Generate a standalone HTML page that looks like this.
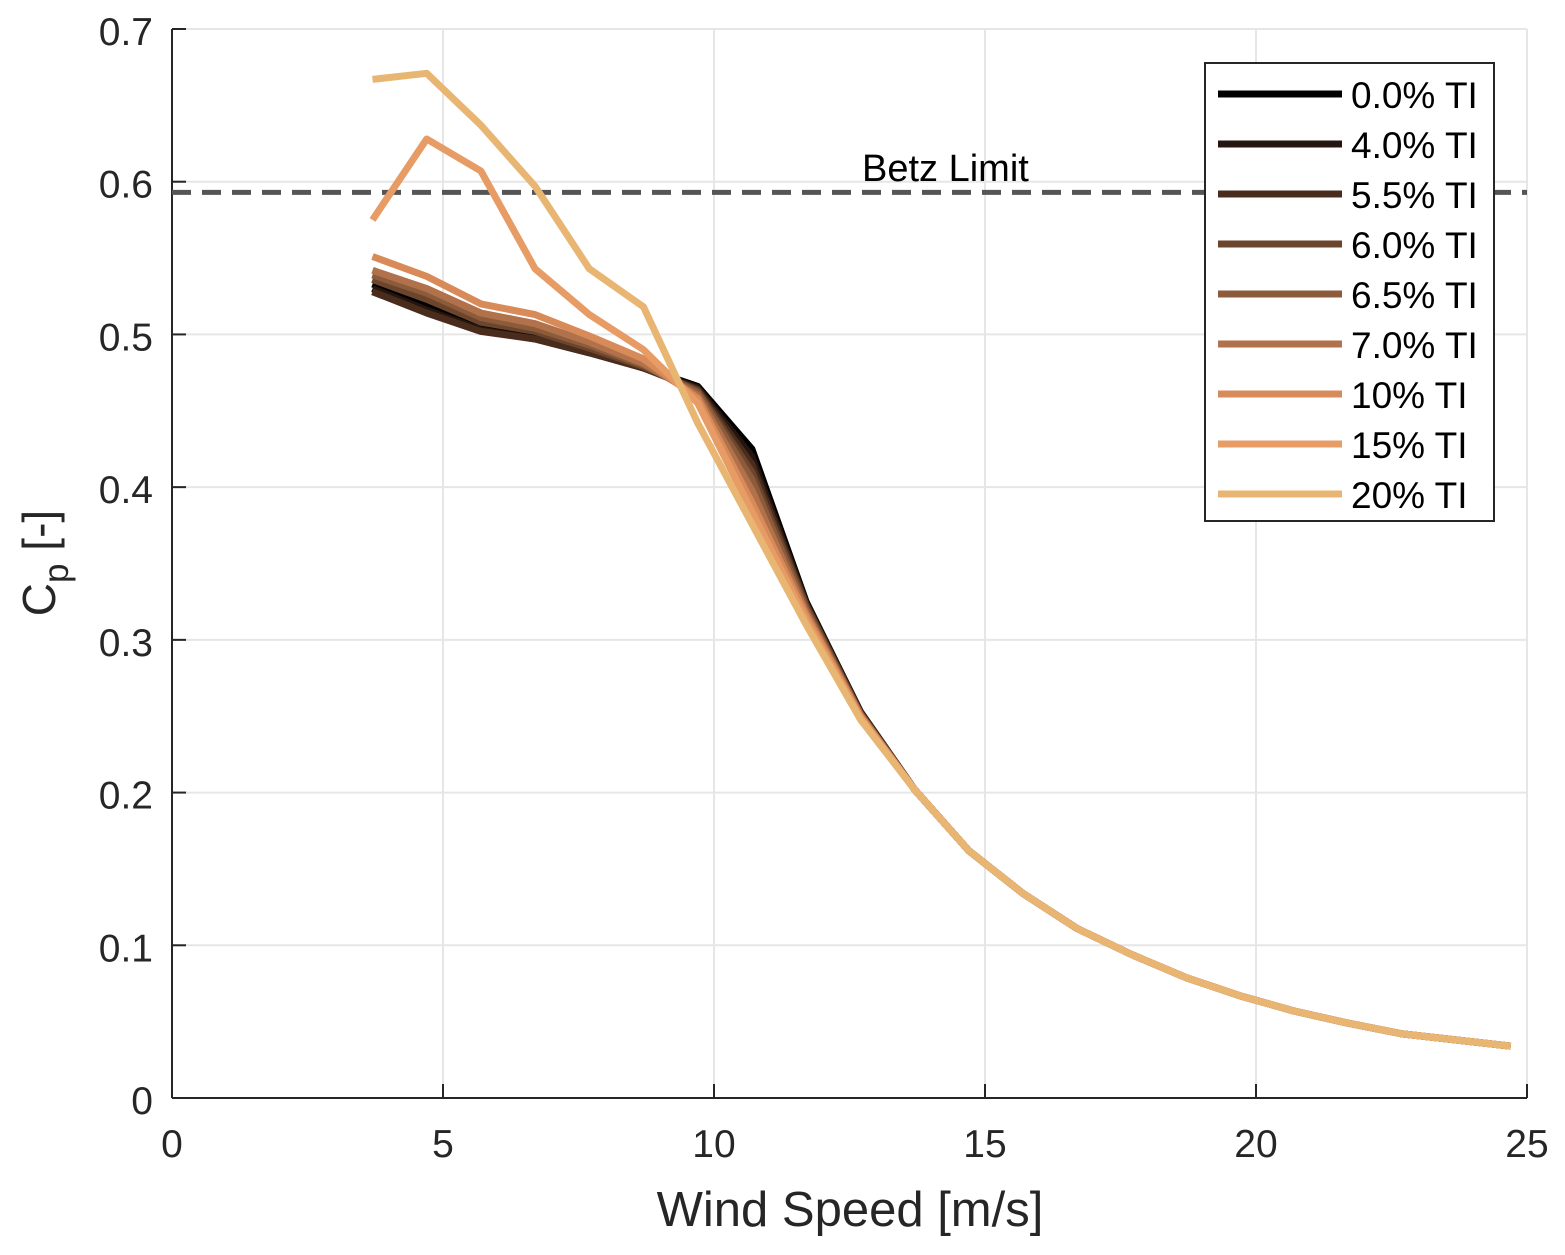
<!DOCTYPE html>
<html><head><meta charset="utf-8"><style>
body{margin:0;background:#fff;font-family:"Liberation Sans",Arial,sans-serif}
svg text{font-family:"Liberation Sans",Arial,sans-serif}
</style></head><body>
<svg id="chart" width="1565" height="1250" xmlns="http://www.w3.org/2000/svg">
<g id="grid"></g>
<g id="axes"></g>
<g id="series"></g>
<g id="legend"></g>
</svg>
<script>
const xTicks=[0,5,10,15,20,25];
const yTicks=[0,0.1,0.2,0.3,0.4,0.5,0.6,0.7];
const yTickLabels=["0","0.1","0.2","0.3","0.4","0.5","0.6","0.7"];
const windSpeed=[3.7,4.7,5.7,6.7,7.7,8.7,9.7,10.7,11.7,12.7,13.7,14.7,15.7,16.7,17.7,18.7,19.7,20.7,21.7,22.7,23.7,24.7];
const tail=[0.202,0.162,0.134,0.111,0.094,0.079,0.067,0.057,0.049,0.042,0.038,0.034];
const seriesNames=["0.0% TI","4.0% TI","5.5% TI","6.0% TI","6.5% TI","7.0% TI","10% TI","15% TI","20% TI"];
const seriesColors=["#000000","#24150e","#4a2c1c","#6b452c","#8c5b3b","#b1714a","#d88a58","#e79c65","#e8b672"];
const cp0=[0.533,0.520,0.505,0.498,0.489,0.478,0.466,0.425,0.325,0.253].concat(tail);
const cp4=[0.530,0.516,0.503,0.497,0.488,0.478,0.465,0.420,0.324,0.253].concat(tail);
const cp55=[0.528,0.514,0.502,0.497,0.488,0.478,0.464,0.415,0.323,0.252].concat(tail);
const cp6=[0.536,0.523,0.508,0.502,0.491,0.479,0.463,0.410,0.322,0.252].concat(tail);
const cp65=[0.539,0.527,0.511,0.504,0.493,0.480,0.462,0.405,0.320,0.251].concat(tail);
const cp7=[0.542,0.530,0.514,0.507,0.495,0.481,0.460,0.398,0.318,0.251].concat(tail);
const cp10=[0.551,0.538,0.520,0.513,0.499,0.484,0.458,0.390,0.316,0.250].concat(tail);
const cp15=[0.575,0.628,0.607,0.543,0.513,0.490,0.455,0.384,0.313,0.249].concat(tail);
const cp20=[0.667,0.671,0.637,0.597,0.543,0.518,0.442,0.376,0.310,0.248].concat(tail);
const seriesValues=[cp0,cp4,cp55,cp6,cp65,cp7,cp10,cp15,cp20];
const betz=0.593;

const X0=172,X1=1527,Y0=1098,Y1=29;
const xs=v=>X0+(v-0)/25*(X1-X0);
const ys=v=>Y0-(v-0)/0.7*(Y0-Y1);
const NS="http://www.w3.org/2000/svg";
function mk(t,a,p){const e=document.createElementNS(NS,t);for(const k in a)e.setAttribute(k,a[k]);p.appendChild(e);return e;}
const grid=document.getElementById('grid'),axes=document.getElementById('axes'),ser=document.getElementById('series'),leg=document.getElementById('legend');
mk('rect',{x:X0,y:Y1,width:X1-X0,height:Y0-Y1,fill:'#fff'},grid);
xTicks.forEach(t=>{const l=mk('line',{x1:xs(t),x2:xs(t),y1:Y1,y2:Y0,stroke:'#e6e6e6','stroke-width':2},grid);


mk('line',{x1:xs(t),x2:xs(t),y1:Y0,y2:Y0-14,stroke:'#262626','stroke-width':2},axes);
const tx=mk('text',{x:xs(t),y:Y0+59,'text-anchor':'middle','font-size':39,fill:'#262626'},axes);tx.textContent=t;

});
yTicks.forEach((t,i)=>{const l=mk('line',{x1:X0,x2:X1,y1:ys(t),y2:ys(t),stroke:'#e6e6e6','stroke-width':2},grid);


mk('line',{x1:X0,x2:X0+14,y1:ys(t),y2:ys(t),stroke:'#262626','stroke-width':2},axes);
const tx=mk('text',{x:X0-19,y:ys(t)+16,'text-anchor':'end','font-size':39,fill:'#262626'},axes);tx.textContent=yTickLabels[i];

});
mk('line',{x1:X0,x2:X0,y1:Y1,y2:Y0,stroke:'#262626','stroke-width':2},axes);
mk('line',{x1:X0,x2:X1,y1:Y0,y2:Y0,stroke:'#262626','stroke-width':2},axes);
const xl=mk('text',{x:850,y:1226,'text-anchor':'middle','font-size':49,fill:'#262626'},axes);xl.textContent='Wind Speed [m/s]';


const yl=mk('text',{transform:'translate(55,563) rotate(-90)','text-anchor':'middle','font-size':46,fill:'#262626'},axes);
yl.innerHTML='C<tspan font-size="35" dy="13">p</tspan><tspan dy="-13"> [-]</tspan>';


const bl=mk('line',{x1:X0,x2:X1,y1:ys(betz),y2:ys(betz),stroke:'#555','stroke-width':5,'stroke-dasharray':'19,11'},ser);


const bt=mk('text',{x:862,y:181,'font-size':38,fill:'#000'},ser);bt.textContent='Betz Limit';


seriesValues.forEach((vals,i)=>{const d=vals.map((v,j)=>(j?'L':'M')+xs(windSpeed[j]).toFixed(1)+','+ys(v).toFixed(1)).join('');
const p=mk('path',{d:d,fill:'none',stroke:seriesColors[i],'stroke-width':7,'stroke-linejoin':'round'},ser);

});
const lb=mk('rect',{x:1205,y:63,width:289,height:458,fill:'#fff',stroke:'#262626','stroke-width':2},leg);


seriesNames.forEach((n,i)=>{const y=94+i*50;
const g=mk('g',{},leg);


mk('line',{x1:1218,x2:1342,y1:y,y2:y,stroke:seriesColors[i],'stroke-width':7},g);
const t=mk('text',{x:1351,y:y+14,'font-size':37,fill:'#000'},g);t.textContent=n;});
</script>
</body></html>
